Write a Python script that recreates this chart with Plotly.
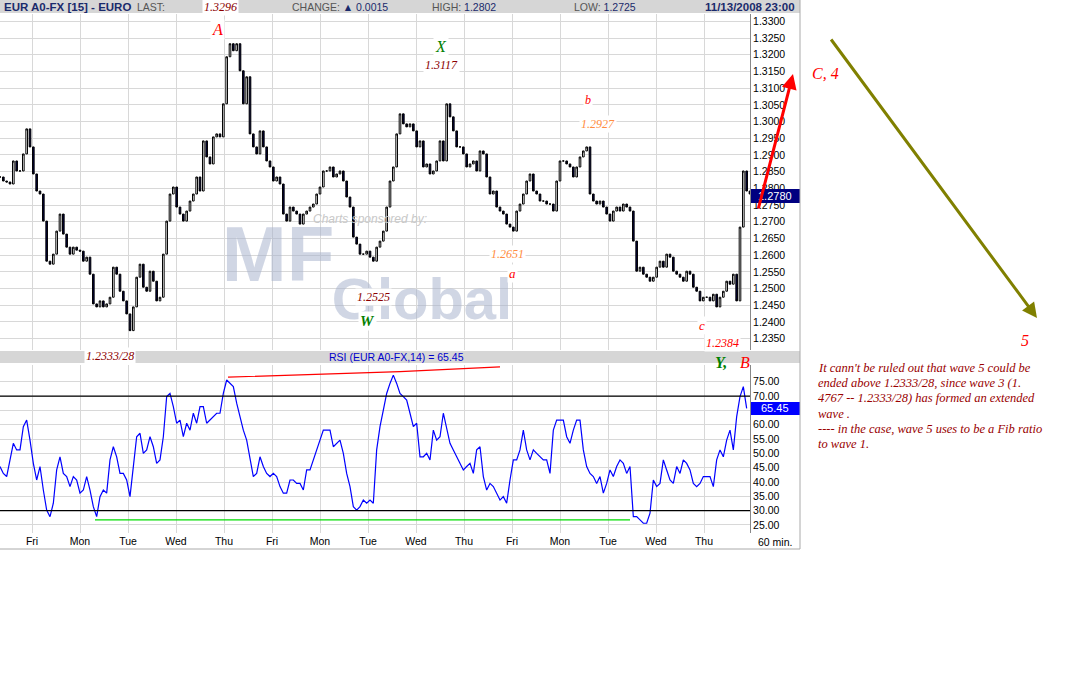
import plotly.graph_objects as go

W, H = 1081, 674
def px(x): return x / W
def py(y): return 1 - y / H

# ---------------- data ----------------
close = [1.2834,1.2822,1.2819,1.2813,1.2882,1.2852,1.2852,1.2903,1.2978,1.2924,1.2843,
 1.2792,1.2783,1.2702,1.2582,1.2573,1.2603,1.2672,1.2723,1.2663,1.2624,1.2603,1.2624,1.2615,
 1.2612,1.2582,1.2594,1.2543,1.2454,1.2445,1.2463,1.2445,1.2454,1.2474,1.2564,1.2543,1.2492,
 1.2463,1.2424,1.2374,1.2445,1.2534,1.2573,1.2504,1.2492,1.2552,1.2522,1.2463,1.2474,1.2603,
 1.2702,1.2783,1.2804,1.2744,1.2723,1.2702,1.2732,1.2762,1.2783,1.2834,1.2792,1.2942,1.2894,
 1.2873,1.2954,1.2963,1.2954,1.3053,1.3194,1.3233,1.3212,1.3233,1.3152,1.3053,1.3134,1.2963,
 1.2924,1.2903,1.2972,1.2924,1.2882,1.2864,1.2822,1.2834,1.2813,1.2723,1.2702,1.2744,1.2732,
 1.2723,1.2693,1.2723,1.2732,1.2744,1.2753,1.2783,1.2804,1.2852,1.2852,1.2864,1.2834,1.2843,
 1.2852,1.2822,1.2774,1.2744,1.2654,1.2633,1.2603,1.2603,1.2612,1.2594,
 1.2582,1.2624,1.2642,1.2672,1.2744,1.2822,1.2864,1.2963,1.3023,1.2993,1.2984,1.2993,1.2972,
 1.2924,1.2942,1.2864,1.2873,1.2843,1.2852,1.2882,1.2942,1.2882,1.3053,1.3014,1.2972,1.2924,
 1.2924,1.2903,1.2864,1.2873,1.2882,1.2852,1.2912,1.2903,1.2834,1.2783,1.2792,1.2744,1.2732,
 1.2723,1.2693,1.2684,1.2672,1.2732,1.2753,1.2783,1.2822,1.2843,1.2792,1.2783,1.2762,1.2762,
 1.2753,1.2753,1.2732,1.2822,1.2882,1.2882,1.2873,1.2864,1.2834,1.2864,1.2894,1.2912,1.2924,
 1.2783,1.2762,1.2753,1.2762,1.2744,1.2723,1.2702,1.2732,1.2744,1.2732,1.2753,1.2744,1.2732,
 1.2642,1.2552,1.2564,1.2543,1.2534,1.2522,1.2534,1.2564,1.2582,1.2564,1.2603,1.2594,1.2552,
 1.2543,1.2534,1.2522,1.2552,1.2543,1.2504,1.2492,1.2463,1.2474,1.2474,1.2463,1.2483,1.2445,
 1.2474,1.2492,1.2522,1.2513,1.2543,1.2463,1.2684,1.2852,1.2792,1.2783]

rsi = [45.4,43.0,41.9,47.7,53.5,51.2,51.2,59.3,61.6,54.6,46.5,40.7,45.4,37.2,30.2,27.9,32.6,
 44.2,48.8,43.0,41.9,38.4,41.9,40.7,36.1,37.2,41.9,37.2,31.4,27.9,34.9,37.2,36.1,47.7,52.3,
 48.8,43.0,43.0,40.7,34.9,46.5,55.8,57.0,50.0,51.2,55.8,52.3,46.5,47.7,55.8,69.8,70.9,66.3,
 60.5,61.6,55.8,60.5,58.1,64.0,60.5,66.3,66.3,60.5,61.6,62.8,64.0,64.0,70.9,75.6,74.4,73.3,
 67.5,62.8,58.1,54.6,48.8,41.9,43.0,48.8,45.4,43.0,41.9,43.0,41.9,38.4,36.1,36.1,40.7,40.7,
 39.5,39.5,37.2,44.2,44.2,47.7,51.2,54.6,58.1,58.1,58.1,52.3,53.5,54.6,50.0,43.0,38.4,31.4,
 30.2,31.4,33.7,32.6,33.7,32.6,51.2,59.3,65.1,70.9,74.4,77.3,
 74.4,70.9,69.8,68.6,64.0,59.3,60.5,48.8,48.8,50.0,47.7,58.1,54.6,55.8,64.0,58.1,53.5,51.2,
 48.8,46.5,44.2,45.4,46.5,43.0,51.2,52.3,41.9,37.2,39.5,38.4,36.1,33.7,34.9,32.6,40.7,47.7,
 47.7,51.2,58.1,51.2,47.7,51.2,50.0,48.8,47.7,47.7,43.0,58.1,61.6,61.6,61.6,55.8,53.5,58.1,
 61.6,61.6,51.2,45.4,43.0,41.9,39.5,41.9,36.1,39.5,44.2,41.9,45.4,47.7,46.5,43.0,45.4,27.9,
 27.9,26.8,25.6,25.6,29.1,40.7,38.4,39.5,47.7,44.2,40.7,39.5,45.4,43.0,47.7,46.5,44.2,39.5,
 38.4,39.5,41.9,41.9,41.9,38.4,47.7,51.2,48.8,54.6,58.1,51.2,62.8,69.8,73.3,65.7]

day_labels = ["Fri","Mon","Tue","Wed","Thu","Fri","Mon","Tue","Wed","Thu","Fri","Mon","Tue","Wed","Thu"]
price_ticks = [1.2350 + 0.005*k for k in range(20)]
rsi_ticks = [25,30,35,40,45,50,55,60,65,70,75]
rsi_top_line = ([68.4,120,150],[76.6,78.5,80.2])
rsi_bottom_line = ([28.5,189],[26.75,26.75])

x = list(range(len(close)))
opens = [close[0]] + close[:-1]
highs = [max(o, c) for o, c in zip(opens, close)]
lows = [min(o, c) for o, c in zip(opens, close)]
day_pos = [9.6 + 14.4*d for d in range(len(day_labels))]

fig = go.Figure()
fig.add_trace(go.Scatter(x=[83.4,126.6,111], y=[1.2580,1.2451,1.2705], mode="text",
    text=["<b>MF</b>","<b>Global</b>","<i>Charts sponsored by:</i>"],
    textfont=dict(size=[78,58,12], color=["rgba(170,180,205,0.55)","rgba(170,180,205,0.55)","#c8c8c8"],
                  family="Liberation Sans"),
    hoverinfo="skip", showlegend=False, xaxis="x", yaxis="y"))
fig.add_trace(go.Candlestick(x=x, open=opens, high=highs, low=lows, close=close,
    increasing=dict(line=dict(color="black", width=1), fillcolor="white"),
    decreasing=dict(line=dict(color="black", width=1), fillcolor="#000040"),
    whiskerwidth=0, showlegend=False, xaxis="x", yaxis="y"))
fig.add_trace(go.Scatter(x=x, y=rsi, mode="lines", line=dict(color="#0000ff", width=1.2),
    showlegend=False, xaxis="x2", yaxis="y2"))
fig.add_trace(go.Scatter(x=rsi_top_line[0], y=rsi_top_line[1], mode="lines",
    line=dict(color="red", width=1.2), showlegend=False, xaxis="x2", yaxis="y2"))
fig.add_trace(go.Scatter(x=rsi_bottom_line[0], y=rsi_bottom_line[1], mode="lines",
    line=dict(color="#00dd00", width=1.2), showlegend=False, xaxis="x2", yaxis="y2"))

gridc = "#d8d8d8"
xcommon = dict(range=[0, 225], tickvals=day_pos, showgrid=True, gridcolor=gridc,
               zeroline=False, rangeslider=dict(visible=False))
fig.update_layout(
    width=W, height=H, margin=dict(l=0, r=0, t=0, b=0),
    paper_bgcolor="white", plot_bgcolor="white",
    font=dict(family="Liberation Sans", size=11, color="black"),
    xaxis=dict(domain=[0, px(750)], anchor="y", showticklabels=False, **xcommon),
    xaxis2=dict(domain=[0, px(750)], anchor="y2", ticktext=day_labels, ticks="",
                tickfont=dict(size=10.5), **xcommon),
    yaxis=dict(domain=[py(350), py(14)], range=[1.2316, 1.3322], side="right",
               tickvals=price_ticks, tickformat=".4f", showgrid=True, gridcolor=gridc,
               showline=True, linecolor="#888", ticks="", zeroline=False, tickfont=dict(size=10.5)),
    yaxis2=dict(domain=[py(533), py(365)], range=[22.2, 80.83], side="right",
                tickvals=rsi_ticks, tickformat=".2f", showgrid=True, gridcolor=gridc,
                showline=True, linecolor="#888", ticks="", zeroline=False, tickfont=dict(size=10.5)),
)

shapes = []
def rect(x0, y0, x1, y1, fill):
    shapes.append(dict(type="rect", xref="paper", yref="paper", x0=px(x0), x1=px(x1),
                       y0=py(y1), y1=py(y0), fillcolor=fill, line=dict(width=0), layer="above"))
rect(0, 0, 800, 13, "#d6d6d6")
rect(0, 351, 800, 363, "#d6d6d6")
rect(751, 189, 800, 203, "#000080")
rect(751, 402, 800, 415, "#0000ff")
for lvl in (70, 30):
    shapes.append(dict(type="line", xref="x2", yref="y2", x0=0, x1=225, y0=lvl, y1=lvl,
                       line=dict(color="black", width=1.2)))
shapes.append(dict(type="line", xref="paper", yref="paper", x0=px(800), x1=px(800), y0=py(0), y1=py(549), line=dict(color="#aaa", width=1)))
shapes.append(dict(type="line", xref="paper", yref="paper", x0=0, x1=px(800), y0=py(549), y1=py(549), line=dict(color="#aaa", width=1)))
fig.update_layout(shapes=shapes)

ann = []
def t(xp, yp, text, color="black", size=11, family="Liberation Sans", bg=None, xa="center"):
    ann.append(dict(x=px(xp), y=py(yp), xref="paper", yref="paper", text=text, showarrow=False,
                    font=dict(color=color, size=size, family=family), xanchor=xa, yanchor="middle",
                    bgcolor=bg, borderpad=1))
serif = "Liberation Serif"
t(2, 7, "<b>EUR A0-FX [15] - EURO</b>", "#1a2a6c", 11.5, xa="left")
t(135, 7, "LAST:", "#555", 10.5, xa="left")
t(220, 7, "<i>1.3296</i>", "#8b0000", 12, serif, "white")
t(290, 7, "CHANGE: <span style='color:#1a2a6c'>▲ 0.0015</span>", "#555", 10.5, xa="left")
t(464, 7, "HIGH: <span style='color:#1a2a6c'>1.2802</span>", "#555", 10.5)
t(605, 7, "LOW: <span style='color:#1a2a6c'>1.2725</span>", "#555", 10.5)
t(797, 7, "<b>11/13/2008 23:00</b>", "#1a2a6c", 11.5, xa="right")
t(217, 30, "<i>A</i>", "red", 16, serif, "white")
t(441, 46, "<i>X</i>", "green", 16, serif, "white")
t(441, 65, "<i>1.3117</i>", "#8b0000", 12, serif, "white")
t(588, 100, "<i>b</i>", "red", 12, serif, "white")
t(598, 124, "<i>1.2927</i>", "#ff8c40", 12, serif, "white")
t(507, 254, "<i>1.2651</i>", "#ff8c40", 12, serif, "white")
t(512, 274, "<i>a</i>", "red", 13, serif, "white")
t(373, 297, "<i>1.2525</i>", "#8b0000", 12, serif, "white")
t(367, 321, "<b><i>W</i></b>", "green", 15, serif, "white")
t(702, 325, "<i>c</i>", "red", 13, serif, "white")
t(722, 343, "<i>1.2384</i>", "red", 12, serif, "white")
t(110, 356, "<i>1.2333/28</i>", "#8b0000", 12, serif, "white")
t(396, 357, "RSI (EUR A0-FX,14) = 65.45", "#0000cc", 10.5)
t(721, 362, "<b><i>Y,</i></b>", "green", 16, serif)
t(745, 362, "<i>B</i>", "red", 16, serif)
t(775, 196, "1.2780", "white", 11)
t(775, 408, "65.45", "white", 11)
t(775, 542, "60 min.", "black", 10.5)
t(825, 73, "<i>C, 4</i>", "red", 16, serif)
t(1025, 340, "<i>5</i>", "red", 16, serif)
para = ["It cann't be ruled out that wave 5 could be",
        "ended above 1.2333/28, since wave 3 (1.",
        "4767 -- 1.2333/28) has formed an extended",
        "wave .",
        "---- in the case, wave 5 uses to be a Fib ratio",
        "to wave 1."]
for k, line in enumerate(para):
    t(816, 368 + 15.2*k, "<i>" + line + "</i>", "#990000", 12.5, serif, xa="left")
ann.append(dict(x=px(793), y=py(74), xref="paper", yref="paper", ax=-35, ay=136, showarrow=True,
                arrowhead=2, arrowsize=1, arrowwidth=3, arrowcolor="red", text=""))
ann.append(dict(x=px(1037), y=py(318), xref="paper", yref="paper", ax=-207, ay=-280, showarrow=True,
                arrowhead=2, arrowsize=1, arrowwidth=3, arrowcolor="#808000", text=""))
fig.update_layout(annotations=ann)
fig.write_html("out.html", config={"displayModeBar": False},
               post_script="document.body.style.margin='0';document.body.style.padding='0';")
